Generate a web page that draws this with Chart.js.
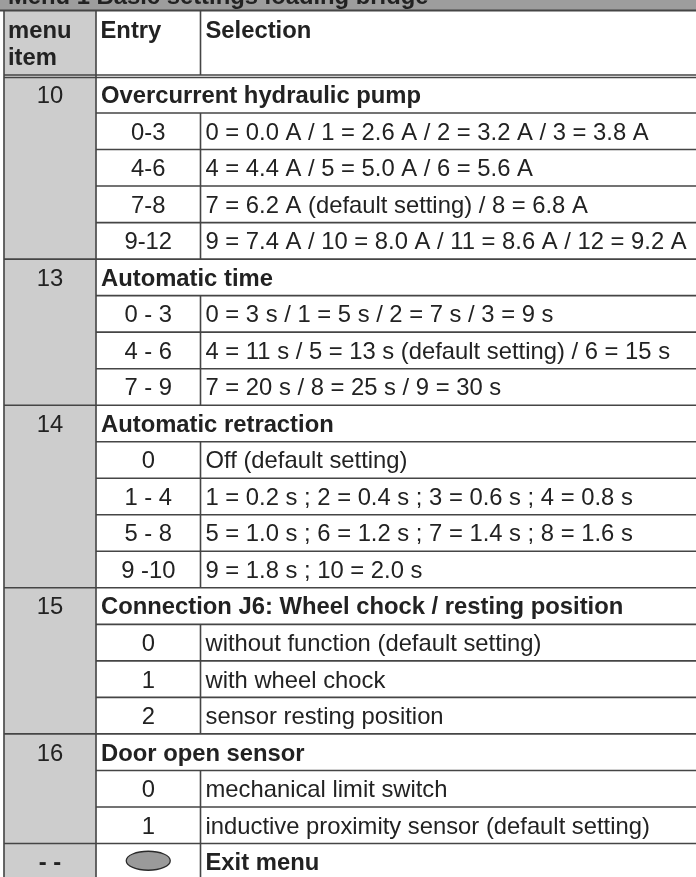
<!DOCTYPE html>
<html>
<head>
<meta charset="utf-8">
<script src="https://cdn.jsdelivr.net/npm/chart.js@4/dist/chart.umd.min.js"></script>
<style>
html,body{margin:0;padding:0;background:#fff;overflow:hidden;}
canvas{display:block;}
</style>
</head>
<body>
<canvas id="c" width="696" height="880"></canvas>
<script>
// ---- data ----
const bandTitle = 'Menu 1 Basic settings loading bridge';
const headerLabels = ['menu', 'item', 'Entry', 'Selection'];
const menuItems = ['10', '13', '14', '15', '16'];
const sectionTitles = [
  'Overcurrent hydraulic pump',
  'Automatic time',
  'Automatic retraction',
  'Connection J6: Wheel chock / resting position',
  'Door open sensor'
];
const entryLabels = [
  ['0-3', '4-6', '7-8', '9-12'],
  ['0 - 3', '4 - 6', '7 - 9'],
  ['0', '1 - 4', '5 - 8', '9 -10'],
  ['0', '1', '2'],
  ['0', '1']
];
const selectionTexts = [
  ['0 = 0.0 A / 1 = 2.6 A / 2 = 3.2 A / 3 = 3.8 A',
   '4 = 4.4 A / 5 = 5.0 A / 6 = 5.6 A',
   '7 = 6.2 A (default setting) / 8 = 6.8 A',
   '9 = 7.4 A / 10 = 8.0 A / 11 = 8.6 A / 12 = 9.2 A'],
  ['0 = 3 s / 1 = 5 s / 2 = 7 s / 3 = 9 s',
   '4 = 11 s / 5 = 13 s (default setting) / 6 = 15 s',
   '7 = 20 s / 8 = 25 s / 9 = 30 s'],
  ['Off (default setting)',
   '1 = 0.2 s ; 2 = 0.4 s ; 3 = 0.6 s ; 4 = 0.8 s',
   '5 = 1.0 s ; 6 = 1.2 s ; 7 = 1.4 s ; 8 = 1.6 s',
   '9 = 1.8 s ; 10 = 2.0 s'],
  ['without function (default setting)',
   'with wheel chock',
   'sensor resting position'],
  ['mechanical limit switch',
   'inductive proximity sensor (default setting)']
];
const exitItem = '- -';
const exitText = 'Exit menu';

// ---- layout (not data) ----
const COL = [4, 96, 200.5, 696];   // column edges on the x scale
const FONT = '"Liberation Sans", Arial, sans-serif';
const FS = 23.8;
const TXT = '#222';
const LINE = '#454545';
const GRAY = '#cdcdcd';

// build table rows from the arrays
const rows = [];
menuItems.forEach((m, s) => {
  rows.push({kind: 'section', item: m, text: sectionTitles[s]});
  entryLabels[s].forEach((e, k) => rows.push({kind: 'sub', entry: e, text: selectionTexts[s][k]}));
});
rows.push({kind: 'exit', item: exitItem, text: exitText});
const rowKeys = rows.map((r, i) => 'row' + i);

const tablePlugin = {
  id: 'table',
  beforeDatasetsDraw(chart) {
    const ctx = chart.ctx, x = chart.scales.x;
    const top = chart.chartArea.top;
    ctx.save();
    // title band
    ctx.fillStyle = '#9d9d9d';
    ctx.fillRect(0, 0, chart.width, 10);
    ctx.fillStyle = TXT;
    ctx.font = 'bold ' + FS + 'px ' + FONT;
    ctx.textBaseline = 'alphabetic';
    ctx.fillText(bandTitle, 8, 3.5);
    // header cell for menu item column
    ctx.fillStyle = GRAY;
    ctx.fillRect(x.getPixelForValue(COL[0]), 11, x.getPixelForValue(COL[1]) - x.getPixelForValue(COL[0]), top - 11);
    ctx.restore();
  },
  afterDatasetsDraw(chart) {
    const ctx = chart.ctx, x = chart.scales.x, y = chart.scales.y;
    const top = chart.chartArea.top, bottom = chart.chartArea.bottom;
    const band = y.getPixelForValue(1) - y.getPixelForValue(0);
    const X = v => x.getPixelForValue(v);
    ctx.save();
    ctx.strokeStyle = LINE;
    const hl = (x0, x1, yy) => { ctx.beginPath(); ctx.moveTo(x0, yy); ctx.lineTo(x1, yy); ctx.stroke(); };
    const vl = (xx, y0, y1) => { ctx.beginPath(); ctx.moveTo(xx, y0); ctx.lineTo(xx, y1); ctx.stroke(); };
    // band bottom line
    ctx.lineWidth = 2.2;
    hl(0, chart.width, 10.5);
    ctx.lineWidth = 1.3;
    // double line under header
    hl(X(COL[0]), chart.width, top - 1.5);
    hl(X(COL[0]), chart.width, top + 1);
    ctx.lineWidth = 1.6;
    // row lines
    rows.forEach((r, i) => {
      if (i === 0) return;
      const yy = y.getPixelForValue(i) - band / 2;
      if (r.kind === 'sub') hl(X(COL[1]), chart.width, yy);
      else hl(X(COL[0]), chart.width, yy);
    });
    // vertical lines
    vl(X(COL[0]), 10, bottom);
    vl(X(COL[1]), 10, bottom);
    vl(X(COL[2]), 10, top - 1.5);
    rows.forEach((r, i) => {
      if (r.kind === 'section') return;
      const c = y.getPixelForValue(i);
      vl(X(COL[2]), c - band / 2, c + band / 2);
    });

    // header text
    ctx.fillStyle = TXT;
    ctx.textBaseline = 'alphabetic';
    ctx.font = 'bold ' + FS + 'px ' + FONT;
    ctx.textAlign = 'left';
    ctx.fillText(headerLabels[0], 8, 38.3);
    ctx.fillText(headerLabels[1], 8, 65);
    ctx.fillText(headerLabels[2], X(COL[1]) + 4.5, 38.3);
    ctx.fillText(headerLabels[3], X(COL[2]) + 5, 38.3);

    // body text
    const cItem = (X(COL[0]) + X(COL[1])) / 2;
    const cEntry = (X(COL[1]) + X(COL[2])) / 2;
    rows.forEach((r, i) => {
      const base = y.getPixelForValue(i) + 8.4;
      if (r.kind === 'section') {
        ctx.font = FS + 'px ' + FONT;
        ctx.textAlign = 'center';
        ctx.fillText(r.item, cItem, base);
        ctx.font = 'bold ' + FS + 'px ' + FONT;
        ctx.textAlign = 'left';
        ctx.fillText(r.text, X(COL[1]) + 5, base);
      } else if (r.kind === 'sub') {
        ctx.font = FS + 'px ' + FONT;
        ctx.textAlign = 'center';
        ctx.fillText(r.entry, cEntry, base);
        ctx.textAlign = 'left';
        ctx.fillText(r.text, X(COL[2]) + 5, base);
      } else {
        ctx.font = 'bold ' + FS + 'px ' + FONT;
        ctx.textAlign = 'center';
        ctx.fillText(r.item, cItem, base);
        ctx.textAlign = 'left';
        ctx.fillText(r.text, X(COL[2]) + 5, base);
        // exit key symbol
        const cy = y.getPixelForValue(i) - 1;
        ctx.beginPath();
        ctx.ellipse(cEntry, cy, 22, 9.5, 0, 0, Math.PI * 2);
        ctx.fillStyle = '#9a9a9a';
        ctx.fill();
        ctx.strokeStyle = '#2a2a2a';
        ctx.lineWidth = 1.3;
        ctx.stroke();
        ctx.fillStyle = TXT;
      }
    });
    ctx.restore();
  }
};

new Chart(document.getElementById('c'), {
  type: 'bar',
  data: {
    labels: rowKeys,
    datasets: [
      {label: 'menu item', data: rows.map(() => [COL[0], COL[1]]), backgroundColor: GRAY},
      {label: 'Entry', data: rows.map(r => r.kind === 'section' ? [COL[1], COL[3]] : [COL[1], COL[2]]), backgroundColor: '#ffffff'},
      {label: 'Selection', data: rows.map(r => r.kind === 'section' ? null : [COL[2], COL[3]]), backgroundColor: '#ffffff'}
    ]
  },
  options: {
    indexAxis: 'y',
    responsive: false,
    animation: false,
    devicePixelRatio: 1,
    layout: {padding: {top: 76.5, left: 0, right: 0, bottom: 0}},
    datasets: {bar: {grouped: false, barPercentage: 1, categoryPercentage: 1, borderWidth: 0}},
    plugins: {legend: {display: false}, tooltip: {enabled: false}},
    scales: {
      x: {type: 'linear', min: 0, max: 696, display: false},
      y: {type: 'category', display: false, offset: true}
    }
  },
  plugins: [tablePlugin]
});
</script>
</body>
</html>
